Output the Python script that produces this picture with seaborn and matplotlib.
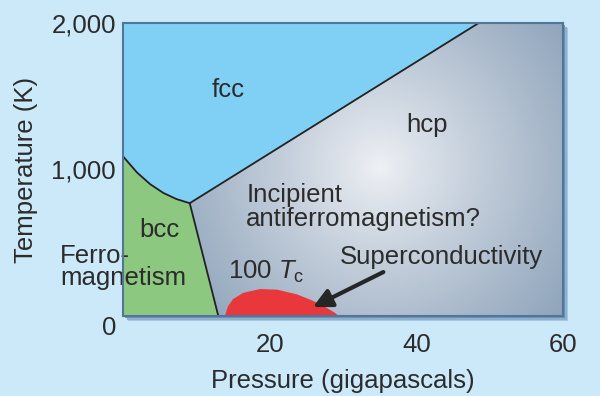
import numpy as np
import matplotlib
matplotlib.use("Agg")
import matplotlib.pyplot as plt
from matplotlib.colors import LinearSegmentedColormap
from matplotlib.patches import Polygon, Rectangle
import seaborn as sns

# phase boundaries of iron (pressure in GPa, temperature in K)
bcc_fcc_p = [0, 1.9, 3.7, 5.5, 7.3, 9.1]
bcc_fcc_t = [1090, 980, 900, 840, 798, 770]
bcc_hcp_p = [9.1, 13.0]
bcc_hcp_t = [770, 0]
fcc_hcp_p = [9.1, 48.5]
fcc_hcp_t = [770, 2000]

# superconducting dome (100 x Tc)
sc_p = [13.9, 14.3, 15.0, 16.4, 18.7, 21.0, 23.7, 26.0, 27.8, 28.9, 29.4]
sc_t = [0, 65, 115, 158, 184, 180, 148, 102, 55, 22, 0]

x_ticks = [20, 40, 60]
y_ticks = [0, 1000, 2000]
y_ticklabels = ["0", "1,000", "2,000"]

bg = "#cce9fa"
txt = "#2b2b2b"

sns.set_theme(style="white")
plt.rcParams["font.family"] = ["Liberation Sans", "DejaVu Sans"]
plt.rcParams["mathtext.fontset"] = "custom"
plt.rcParams["mathtext.it"] = "Liberation Sans:italic"
plt.rcParams["mathtext.rm"] = "Liberation Sans"

fig = plt.figure(figsize=(6, 3.96), dpi=100, facecolor=bg)
ax = fig.add_axes([123 / 600, 1 - 316 / 396, 440 / 600, 293 / 396])
ax.set_zorder(2)

# soft drop shadow behind the frame
for off, col in [(5, "#a9c6e0"), (3.5, "#8eb0cf"), (2, "#6f93b5")]:
    fig.patches.append(Rectangle(((123 + off) / 600, 1 - (316 + off) / 396),
                                 440 / 600, 293 / 396, transform=fig.transFigure,
                                 facecolor=col, edgecolor="none", zorder=0))

ax.set_xlim(0, 60)
ax.set_ylim(0, 2000)

# hcp region with radial shading
hcp_poly = [(bcc_hcp_p[0], bcc_hcp_t[0]), (fcc_hcp_p[1], fcc_hcp_t[1]), (60, 2000),
            (60, 0), (bcc_hcp_p[1], bcc_hcp_t[1])]
gx, gy = np.meshgrid(np.linspace(0, 60, 300), np.linspace(0, 2000, 200))
d = np.hypot((gx - 35) / 60 * 440, (gy - 1020) / 2000 * 293)
shade = np.clip(d / 250, 0, 1) ** 0.9
cmap = LinearSegmentedColormap.from_list("hcp", ["#eff1f5", "#8aa0b8"])
im = ax.imshow(shade, extent=[0, 60, 0, 2000], origin="lower", aspect="auto",
               cmap=cmap, vmin=0, vmax=1, zorder=1)
clip = Polygon(hcp_poly, closed=True, transform=ax.transData)
im.set_clip_path(clip)

# fcc region
fcc_poly = [(0, 2000), (0, bcc_fcc_t[0])] + list(zip(bcc_fcc_p, bcc_fcc_t)) + \
           [(fcc_hcp_p[1], fcc_hcp_t[1])]
ax.fill(*zip(*fcc_poly), color="#80d0f5", lw=0, zorder=1)

# bcc region
bcc_poly = [(0, 0)] + list(zip(bcc_fcc_p, bcc_fcc_t)) + [(bcc_hcp_p[1], bcc_hcp_t[1])]
ax.fill(*zip(*bcc_poly), color="#8dc880", lw=0, zorder=1)

# superconductivity
ax.fill(sc_p, sc_t, color="#e8383c", lw=0, zorder=2)

# boundaries
for px, ty in [(bcc_fcc_p, bcc_fcc_t), (bcc_hcp_p, bcc_hcp_t), (fcc_hcp_p, fcc_hcp_t)]:
    sns.lineplot(x=px, y=ty, sort=False, estimator=None, color="#222222",
                 lw=1.3, ax=ax, zorder=3)

ax.annotate("", xy=(25.9, 61), xytext=(35.5, 300),
            arrowprops=dict(arrowstyle="-|>", lw=3, color="#262626",
                            mutation_scale=28, shrinkA=0, shrinkB=0), zorder=4)

fs = 18.5
ax.text(14.3, 1543, "fcc", fontsize=fs, color=txt, ha="center", va="center", zorder=5)
ax.text(41.5, 1304, "hcp", fontsize=fs, color=txt, ha="center", va="center", zorder=5)
ax.text(5.0, 587, "bcc", fontsize=fs, color=txt, ha="center", va="center", zorder=5)
ax.text(16.8, 744, "Incipient\nantiferromagnetism?", fontsize=fs, color=txt,
        ha="left", va="center", linespacing=0.95, zorder=5)
ax.text(-8.6, 334, "Ferro-\nmagnetism", fontsize=fs, color=txt, ha="left",
        va="center", linespacing=0.85, clip_on=False, zorder=5)
ax.text(19.5, 300, "100 $T_{\\rm c}$", fontsize=fs, color=txt, ha="center",
        va="center", zorder=5)
ax.text(43.4, 403, "Superconductivity", fontsize=fs, color=txt, ha="center",
        va="center", zorder=5)

ax.set_xticks(x_ticks)
ax.set_xticklabels([str(v) for v in x_ticks])
ax.set_yticks(y_ticks)
ax.set_yticklabels(y_ticklabels)
ax.tick_params(axis="both", length=0, labelsize=fs, labelcolor=txt)
ax.tick_params(axis="x", pad=12)
ax.tick_params(axis="y", pad=5)
ax.get_yticklabels()[0].set_verticalalignment("top")

ax.set_xlabel("Pressure (gigapascals)", fontsize=fs, color=txt, labelpad=9)
ax.set_ylabel("Temperature (K)", fontsize=fs, color=txt, labelpad=10)

for s in ax.spines.values():
    s.set_color("#52769a")
    s.set_linewidth(1.5)
    s.set_zorder(6)

fig.savefig("out.png", dpi=100, facecolor=bg)
